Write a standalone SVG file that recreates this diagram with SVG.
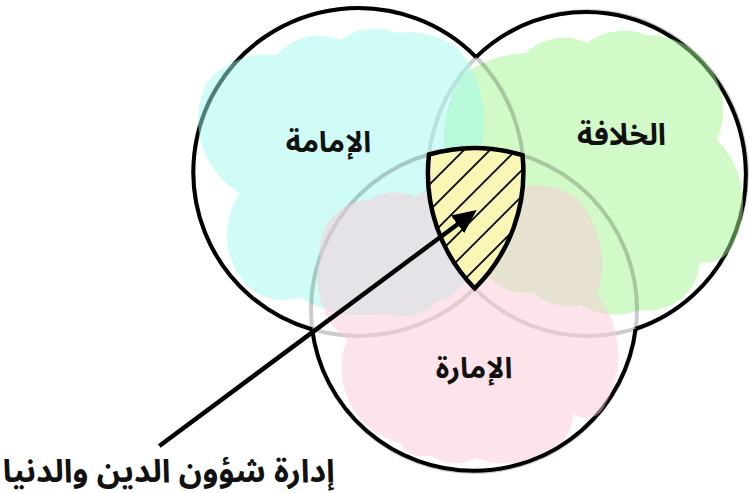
<svg xmlns="http://www.w3.org/2000/svg" width="749" height="493" viewBox="0 0 749 493">
<defs>
<style>
.faint{fill:none;stroke:#000;stroke-opacity:.2;stroke-width:4}
.outer{fill:none;stroke:#000;stroke-width:4}
.cloud{fill-opacity:.5;stroke:none}
.lbl{font-family:"Noto Sans Arabic UI","Noto Sans Arabic","Noto Kufi Arabic","DejaVu Sans",sans-serif;font-weight:bold;font-size:29px;fill:#111;text-anchor:middle}
.hatch line{stroke:#000;stroke-width:1.8}
</style>
<clipPath id="shieldClip">
<path d="M429,154.5 A163 162 0 0 1 522.5,155.2 A165 164 0 0 1 474.7,288.4 A159.5 162.5 0 0 1 429,154.5 Z"/>
</clipPath>
<marker id="ah" markerUnits="userSpaceOnUse" markerWidth="26" markerHeight="24" viewBox="0 0 26 24" refX="12" refY="11" orient="auto">
<path d="M0,0 L24,11 L0,22 Z" fill="#000"/>
</marker>
</defs>
<rect width="749" height="493" fill="#fff"/>

<g id="node-khilafa">
<ellipse class="faint" cx="587.5" cy="173.5" rx="159.5" ry="162.5"/>
<path class="outer" d="M476,57.1 A159.5 162.5 0 1 1 635.6,329"/>
<path class="cloud" fill="#a5f391" d="M446,160 A120 120 0 0 1 462,75 A120 120 0 0 1 526,53 A55 55 0 0 1 587,43 A60 60 0 0 1 646,35 A75 75 0 0 1 717,140 A89 89 0 0 1 735,240 A30 30 0 0 1 700,262 A52 52 0 0 1 640,310 A70 70 0 0 1 580,305 A50 50 0 0 1 533,292 A50 50 0 0 1 480,265 A80 80 0 0 1 446,160 Z"/>
<text class="lbl" x="621.5" y="145" style="font-size:30px">الخلافة</text>
</g>

<g id="node-imamah">
<ellipse class="faint" cx="358.5" cy="172" rx="165" ry="164"/>
<path class="outer" d="M476,57.1 A165 164 0 1 0 312.2,329.5"/>
<path class="cloud" fill="#9ff9ed" d="M240,193 A85 85 0 0 1 207,82 A80 80 0 0 1 277,55 A55 55 0 0 1 340,40 A60 60 0 0 1 397,33 A90 90 0 0 1 458,48 A120 120 0 0 1 481,150 A100 100 0 0 1 470,255 A40 40 0 0 1 440,300 A50 50 0 0 1 384,313 A110 110 0 0 1 300,297 A50 50 0 0 1 245,283 A73 73 0 0 1 240,193 Z"/>
<text class="lbl" x="328.5" y="152">الإمامة</text>
</g>

<g id="node-imarah">
<ellipse class="faint" cx="474" cy="310" rx="163" ry="162"/>
<path class="outer" d="M312.2,329.5 A163 162 0 0 0 635.6,329"/>
<path class="cloud" fill="#fbc9d7" d="M320,258 A51 51 0 0 1 369,200 A49 49 0 0 1 416,197 A60 60 0 0 1 496,200 A66 66 0 0 1 575,197 A97 97 0 0 1 597,295 A97 97 0 0 1 605,405 A20 20 0 0 1 573,413 A40 40 0 0 1 545,452 A80 80 0 0 1 475,458 A40 40 0 0 1 430,455 A25 25 0 0 1 400,443 A77 77 0 0 1 347,340 A79 79 0 0 1 320,258 Z"/>
<text class="lbl" x="474" y="378">الإمارة</text>
</g>

<g id="node-intersection">
<path d="M429,154.5 A163 162 0 0 1 522.5,155.2 A165 164 0 0 1 474.7,288.4 A159.5 162.5 0 0 1 429,154.5 Z" fill="#faf7b6"/>
<g class="hatch" clip-path="url(#shieldClip)">
<line x1="314" y1="300" x2="474" y2="140"/>
<line x1="340" y1="300" x2="500" y2="140"/>
<line x1="366" y1="300" x2="526" y2="140"/>
<line x1="392" y1="300" x2="552" y2="140"/>
<line x1="418" y1="300" x2="578" y2="140"/>
<line x1="444" y1="300" x2="604" y2="140"/>
</g>
<path d="M429,154.5 A163 162 0 0 1 522.5,155.2 A165 164 0 0 1 474.7,288.4 A159.5 162.5 0 0 1 429,154.5 Z" fill="none" stroke="#000" stroke-width="4.5" stroke-linejoin="miter" stroke-miterlimit="10"/>
</g>

<g id="connectors">
<line x1="159.3" y1="446" x2="467.1" y2="217.2" stroke="#000" stroke-width="4.5" marker-end="url(#ah)"/>
</g>

<g id="node-label">
<text class="lbl" x="168.7" y="481.5" style="font-size:32px">إدارة شؤون الدين والدنيا</text>
</g>
</svg>
